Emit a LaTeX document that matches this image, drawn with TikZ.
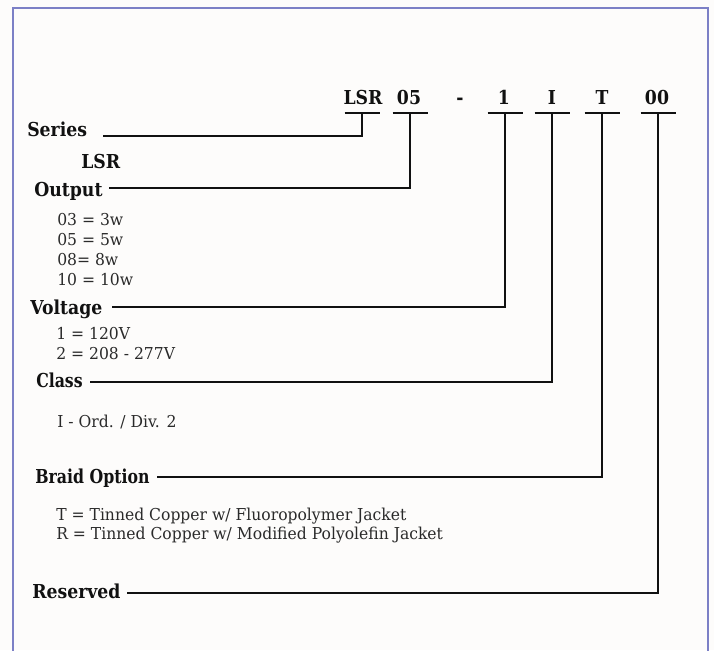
\documentclass[tikz,border=0pt]{standalone}
\usepackage{fontspec}
\setmainfont{DejaVu Serif}
\newfontfamily\hdfont{DejaVu Serif}[FakeStretch=0.9]
\newfontfamily\hdnfont{DejaVu Serif}[FakeStretch=0.82]
\newfontfamily\dsfont{DejaVu Serif}[FakeStretch=0.95]
\definecolor{framec}{HTML}{7C80C6}
\definecolor{bgc}{HTML}{FDFCFB}
\definecolor{inkc}{HTML}{111111}
\definecolor{descc}{HTML}{2A2A2A}
\tikzset{
  hd/.style={font=\hdfont\bfseries\fontsize{14.4}{16}\selectfont, text=inkc, inner sep=0pt, anchor=base west},
  hdn/.style={hd, font=\hdnfont\bfseries\fontsize{14.4}{16}\selectfont},
  code/.style={font=\hdfont\bfseries\fontsize{14.4}{16}\selectfont, text=inkc, inner sep=0pt, anchor=base},
  desc/.style={font=\dsfont\fontsize{12.3}{14}\selectfont, text=descc, inner sep=0pt, anchor=base west},
  conn/.style={draw=inkc, line width=2.1pt, line join=miter},
  bar/.style={draw=inkc, line width=2.1pt},
}
\begin{document}
\begin{tikzpicture}[x=0.75pt, y=-0.75pt]
\useasboundingbox (0,0) rectangle (714,650);
\fill[bgc] (0,0) rectangle (714,650);
\draw[framec, line width=1.6pt] (13,652) -- (13,8) -- (708,8) -- (708,652);

% code letters
\node[code] (kLSR) at (363,104) {LSR};
\node[code] (k05) at (409,104) {05};
\node[code] (kdash) at (460,104) {-};
\node[code] (k1) at (504,104) {1};
\node[code] (kI) at (552,104) {I};
\node[code] (kT) at (602,104) {T};
\node[code] (k00) at (657,104) {00};

% bars under the code letters
\coordinate (bLSR) at (362,113);
\coordinate (b05) at (410,113);
\coordinate (b1) at (505,113);
\coordinate (bI) at (552,113);
\coordinate (bT) at (602,113);
\coordinate (b00) at (658,113);
\foreach \c in {bLSR,b05,b1,bI,bT,b00}{
  \draw[bar] ([xshift=-17.5*0.75pt]\c) -- ([xshift=17.5*0.75pt]\c);
}

% labels
\node[hd] (series) at (27,136) {Series};
\node[hd] (lsr) at (81,168) {LSR};
\node[hd] (output) at (34,196) {Output};
\node[desc] (o1) at (57,225) {03 = 3w};
\node[desc] (o2) at (57,245) {05 = 5w};
\node[desc] (o3) at (57,265) {08= 8w};
\node[desc] (o4) at (57,285) {10 = 10w};
\node[hd] (voltage) at (30,314) {Voltage};
\node[desc] (v1) at (56,339) {1 = 120V};
\node[desc] (v2) at (56,359) {2 = 208 - 277V};
\node[hdn] (class) at (36,387) {Class};
\node[desc] (c1) at (57,427) {I -\ Ord. / Div. 2};
\node[hdn] (braid) at (35,483) {Braid Option};
\node[desc] (t1) at (56,520) {T = Tinned Copper w/ Fluoropolymer Jacket};
\node[desc] (t2) at (56,539) {R = Tinned Copper w/ Modified Polyolefin Jacket};
\node[hd] (reserved) at (32,598) {Reserved};

% connector start points
\coordinate (sSeries) at (103,136);
\coordinate (sOutput) at (109,188);
\coordinate (sVoltage) at (112,307);
\coordinate (sClass) at (90,382);
\coordinate (sBraid) at (157,477);
\coordinate (sReserved) at (127,593);

\draw[conn] (sSeries) -| (bLSR);
\draw[conn] (sOutput) -| (b05);
\draw[conn] (sVoltage) -| (b1);
\draw[conn] (sClass) -| (bI);
\draw[conn] (sBraid) -| (bT);
\draw[conn] (sReserved) -| (b00);
\end{tikzpicture}
\end{document}
